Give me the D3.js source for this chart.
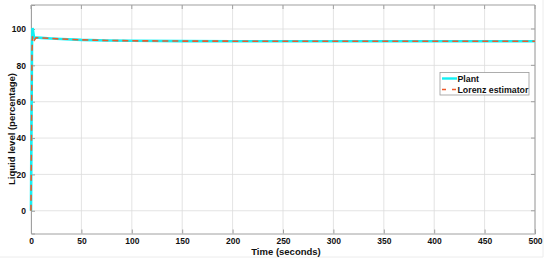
<!DOCTYPE html>
<html>
<head>
<meta charset="utf-8">
<script src="https://cdn.jsdelivr.net/npm/d3@7"></script>
<style>
  body { margin: 0; background: #fff; }
  svg text { font-family: "Liberation Sans", Arial, sans-serif; font-weight: bold; }
</style>
</head>
<body>
<svg id="chart" width="550" height="261"></svg>
<script>
  // data
  const timeVals  = [0, 0.5, 1, 1.5, 2, 3, 5, 10, 20, 30, 50, 75, 100, 150, 200, 300, 500];
  const plantVals = [0, 50, 92, 100.5, 99, 95.2, 95.3, 95.1, 94.8, 94.5, 94.0, 93.7, 93.5, 93.35, 93.3, 93.3, 93.3];
  const lorenzVals = [0, 45, 88, 96, 93.5, 93.6, 95.2, 95.1, 94.8, 94.5, 94.0, 93.7, 93.5, 93.35, 93.3, 93.3, 93.3];
  const xTicks = [0, 50, 100, 150, 200, 250, 300, 350, 400, 450, 500];
  const yTicks = [0, 20, 40, 60, 80, 100];
  const legendNames = ["Plant", "Lorenz estimator"];

  const svg = d3.select("#chart");
  const L = 31, R = 535, T = 5, B = 233.5;

  const x = d3.scaleLinear().domain([0, 500]).range([L, R]);
  const y = d3.scaleLinear().domain([-12.5, 113.2]).range([B, T]);

  // faint outer frame (right / bottom)
  svg.append("line").attr("x1", 543).attr("x2", 543).attr("y1", 0).attr("y2", 257)
    .attr("stroke", "#ececec").attr("stroke-width", 1);
  svg.append("line").attr("x1", 0).attr("x2", 543).attr("y1", 257).attr("y2", 257)
    .attr("stroke", "#ececec").attr("stroke-width", 1);

  // grid
  const grid = svg.append("g");
  xTicks.forEach(t => {
    grid.append("line").attr("x1", x(t)).attr("x2", x(t)).attr("y1", T).attr("y2", B)
      .attr("stroke", "#dcdcdc").attr("stroke-width", 0.8);
  });
  yTicks.forEach(t => {
    grid.append("line").attr("x1", L).attr("x2", R).attr("y1", y(t)).attr("y2", y(t))
      .attr("stroke", "#dcdcdc").attr("stroke-width", 0.8);
  });

  // axes
  const xAxis = svg.append("g").attr("transform", `translate(0,${B})`)
    .call(d3.axisBottom(x).tickValues(xTicks).tickSize(-4).tickPadding(4));
  const yAxis = svg.append("g").attr("transform", `translate(${L},0)`)
    .call(d3.axisLeft(y).tickValues(yTicks).tickSize(-4).tickPadding(5));
  [xAxis, yAxis].forEach(a => {
    a.select(".domain").attr("stroke", "#a0a0a0");
    a.selectAll(".tick line").attr("stroke", "#a0a0a0");
    a.selectAll("text").attr("font-size", 8.5).attr("fill", "#111")
      .style("font-family", "Liberation Sans, Arial, sans-serif").style("font-weight", "bold");
  });
  // top and right box
  svg.append("line").attr("x1", L).attr("x2", R).attr("y1", T).attr("y2", T)
    .attr("stroke", "#a0a0a0").attr("stroke-width", 1.2);
  svg.append("line").attr("x1", R).attr("x2", R).attr("y1", T).attr("y2", B)
    .attr("stroke", "#a0a0a0").attr("stroke-width", 1);
  yTicks.forEach(t => {
    svg.append("line").attr("x1", R - 4).attr("x2", R).attr("y1", y(t)).attr("y2", y(t))
      .attr("stroke", "#a0a0a0");
  });
  xTicks.forEach(t => {
    svg.append("line").attr("x1", x(t)).attr("x2", x(t)).attr("y1", T).attr("y2", T + 4)
      .attr("stroke", "#a0a0a0");
  });

  // series
  const line = d3.line().x(d => x(d[0])).y(d => y(d[1]));
  svg.append("path").datum(timeVals.map((t, i) => [t, plantVals[i]]))
    .attr("d", line).attr("fill", "none").attr("stroke", "#12f0f4").attr("stroke-width", 2.6);
  svg.append("path").datum(timeVals.map((t, i) => [t, lorenzVals[i]]))
    .attr("d", line).attr("fill", "none").attr("stroke", "#f0592a").attr("stroke-width", 1.6)
    .attr("stroke-dasharray", "6,4");

  // axis titles
  svg.append("text").attr("x", (L + R) / 2 + 3).attr("y", 254.5).attr("text-anchor", "middle")
    .attr("font-size", 9.5).attr("fill", "#111").text("Time (seconds)");
  svg.append("text").attr("transform", "translate(15,129) rotate(-90)")
    .attr("text-anchor", "middle").attr("font-size", 9.5).attr("fill", "#111")
    .text("Liquid level (percentage)");

  // legend
  const lg = svg.append("g").attr("transform", "translate(440,72.5)");
  lg.append("rect").attr("width", 89).attr("height", 22.5)
    .attr("fill", "#fff").attr("stroke", "#9a9a9a").attr("stroke-width", 0.8);
  const legendStyles = [
    { color: "#12f0f4", w: 2.4, dash: null },
    { color: "#f0592a", w: 1.6, dash: "4,6" }
  ];
  legendNames.forEach((name, i) => {
    const yy = 6 + i * 11;
    lg.append("line").attr("x1", 2).attr("x2", 17).attr("y1", yy).attr("y2", yy)
      .attr("stroke", legendStyles[i].color).attr("stroke-width", legendStyles[i].w)
      .attr("stroke-dasharray", legendStyles[i].dash);
    lg.append("text").attr("x", 17.5).attr("y", yy + 3).attr("font-size", 8.8)
      .attr("fill", "#111").text(name);
  });
</script>
</body>
</html>
